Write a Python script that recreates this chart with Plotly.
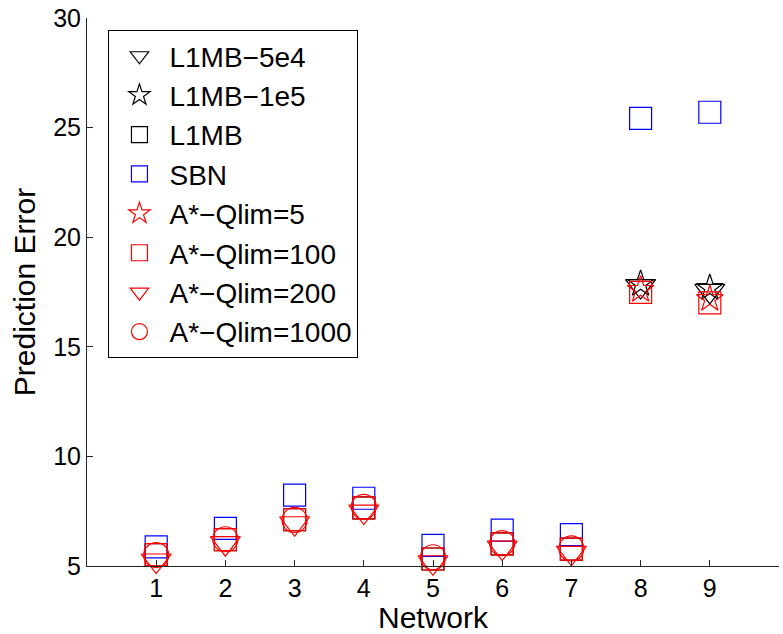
import plotly.graph_objects as go

networks = [1, 2, 3, 4, 5, 6, 7, 8, 9]
big_networks = [8, 9]
small_networks = [1, 2, 3, 4, 5, 6, 7]

l1mb_5e4 = [17.77, 17.55]
l1mb_1e5 = [17.87, 17.68]
l1mb = [5.52, 6.20, 7.11, 7.65, 5.32, 6.01, 5.77]
sbn = [5.87, 6.72, 8.23, 8.09, 5.94, 6.64, 6.43, 25.42, 25.70]
astar_q5 = [17.60, 17.18]
astar_q100 = [5.52, 6.20, 7.11, 7.65, 5.32, 6.01, 5.77, 17.48, 17.00]
astar_q200 = [5.25, 6.04, 6.95, 7.48, 5.17, 5.84, 5.60]
astar_q1000 = [5.50, 6.22, 7.10, 7.70, 5.40, 6.04, 5.80]

x_ticks = [1, 2, 3, 4, 5, 6, 7, 8, 9]
y_ticks = [5, 10, 15, 20, 25, 30]

series = [
    ("L1MB\u22125e4", big_networks, l1mb_5e4, "triangle-down-open", "black", 26),
    ("L1MB\u22121e5", big_networks, l1mb_1e5, "star-open", "black", 20),
    ("L1MB", small_networks, l1mb, "square-open", "black", 22),
    ("SBN", networks, sbn, "square-open", "blue", 22),
    ("A*\u2212Qlim=5", big_networks, astar_q5, "star-open", "red", 20),
    ("A*\u2212Qlim=100", networks, astar_q100, "square-open", "red", 22),
    ("A*\u2212Qlim=200", small_networks, astar_q200, "triangle-down-open", "red", 26),
    ("A*\u2212Qlim=1000", small_networks, astar_q1000, "circle-open", "red", 25),
]

fig = go.Figure()
for i, (name, xs, ys, sym, col, sz) in enumerate(series):
    fig.add_trace(go.Scatter(
        x=xs, y=ys, mode="markers", name=name, legendgroup=str(i),
        marker=dict(symbol=sym, size=sz, color=col, line=dict(color=col, width=1.2)),
        cliponaxis=False,
    ))

font_family = "Liberation Sans, Arial, sans-serif"
fig.update_layout(
    width=783, height=634,
    margin=dict(l=87, r=4, t=18, b=68),
    paper_bgcolor="white", plot_bgcolor="white",
    font=dict(family=font_family, size=25, color="black"),
    showlegend=True,
    legend=dict(
        x=0.031, y=0.978, xanchor="left", yanchor="top",
        bgcolor="white", bordercolor="black", borderwidth=1,
        font=dict(family=font_family, size=28, color="black"),
        traceorder="grouped", tracegroupgap=0, itemwidth=50,
    ),
    xaxis=dict(
        range=[0, 10], tickvals=x_ticks, ticktext=[str(t) for t in x_ticks],
        showline=True, linecolor="#262626", linewidth=1, mirror=False,
        ticks="inside", ticklen=6, tickcolor="#262626",
        showgrid=False, zeroline=False,
        tickfont=dict(size=25),
        title=dict(text="Network", font=dict(size=30), standoff=2),
    ),
    yaxis=dict(
        range=[5, 30], tickvals=y_ticks, ticktext=[str(t) for t in y_ticks],
        showline=True, linecolor="#262626", linewidth=1, mirror=False,
        ticks="inside", ticklen=6, tickcolor="#262626",
        showgrid=False, zeroline=False,
        tickfont=dict(size=25),
        title=dict(text="Prediction Error", font=dict(size=30), standoff=8),
    ),
)

fig.write_html("out.html")
